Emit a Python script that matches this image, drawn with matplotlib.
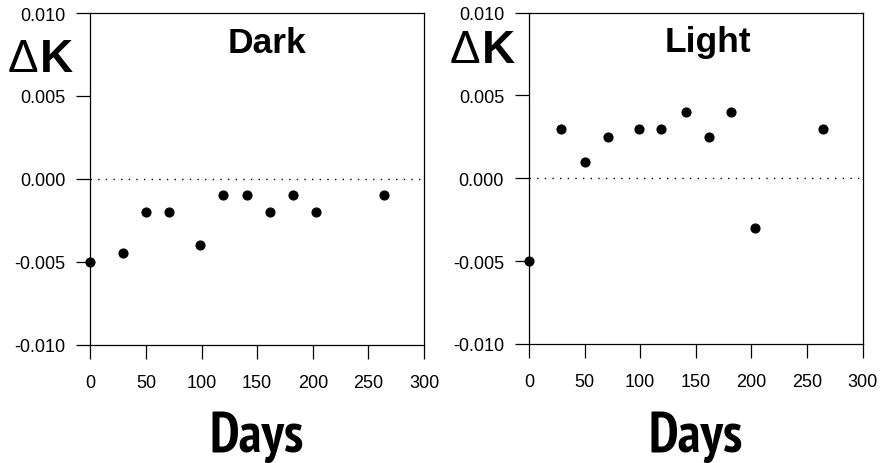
import matplotlib
matplotlib.use("Agg")
import matplotlib.pyplot as plt

plt.rcParams['axes.unicode_minus'] = False
plt.rcParams['font.family'] = ['Liberation Sans', 'DejaVu Sans']

narrow = ['Liberation Sans Narrow', 'Arial Narrow', 'PT Sans Narrow', 'Roboto Condensed',
          'Liberation Sans']

days = [0, 29, 50, 71, 99, 119, 141, 162, 182, 203, 264]
dark_dk = [-0.005, -0.0045, -0.002, -0.002, -0.004, -0.001, -0.001, -0.002, -0.001, -0.002, -0.001]
light_dk = [-0.005, 0.003, 0.001, 0.0025, 0.003, 0.003, 0.004, 0.0025, 0.004, -0.003, 0.003]
xticks = [0, 50, 100, 150, 200, 250, 300]
yticks = [-0.010, -0.005, 0.000, 0.005, 0.010]
titles = ['Dark', 'Light']

W, H = 882, 464
fig = plt.figure(figsize=(W / 100, H / 100), dpi=100)

def px_rect(x0, x1, ytop, ybot):
    return [x0 / W, 1 - ybot / H, (x1 - x0) / W, (ybot - ytop) / H]

rects = [px_rect(90.3, 424, 14, 345.5), px_rect(529, 862.7, 13.5, 345)]
dk_pos = [(73, 72), (515, 63)]
days_x = [257, 696]
title_x = [158.5, 161]

for i, (rect, vals, title) in enumerate(zip(rects, [dark_dk, light_dk], titles)):
    ax = fig.add_axes(rect)
    ax.plot(days, vals, 'o', color='black', ms=6.3, clip_on=False, zorder=3)
    ax.plot([0, 300], [0, 0], color='black', lw=1, linestyle=(0, (1, 4.5)))
    ax.set_xlim(0, 300)
    ax.set_ylim(-0.010, 0.010)
    ax.set_xticks(xticks)
    ax.set_xticklabels([str(v) for v in xticks])
    ax.set_yticks(yticks)
    ax.set_yticklabels([f"{v:.3f}" for v in yticks])
    ax.tick_params(axis='both', direction='out', length=10, width=0.9, labelsize=13, color='black')
    ax.tick_params(axis='y', pad=8)
    ax.tick_params(axis='x', pad=11)
    for s in ax.spines.values():
        s.set_linewidth(0.9)
    ax.text(title_x[i], 0.00765, title, ha='center', va='baseline', fontsize=25.5, fontweight='bold')
    kx, ky = dk_pos[i]
    fig.text(kx / W, 1 - ky / H, 'K', ha='right', va='baseline', fontsize=33, fontweight='bold')
    fig.text((kx - 35) / W, 1 - ky / H, '\u0394', ha='right', va='baseline', fontsize=33, fontweight='normal')
    fig.text(days_x[i] / W, 1 - 452 / H, 'Days', ha='center', va='baseline', fontsize=40,
             fontweight='bold', family=narrow)

fig.savefig('out.png', dpi=100)
